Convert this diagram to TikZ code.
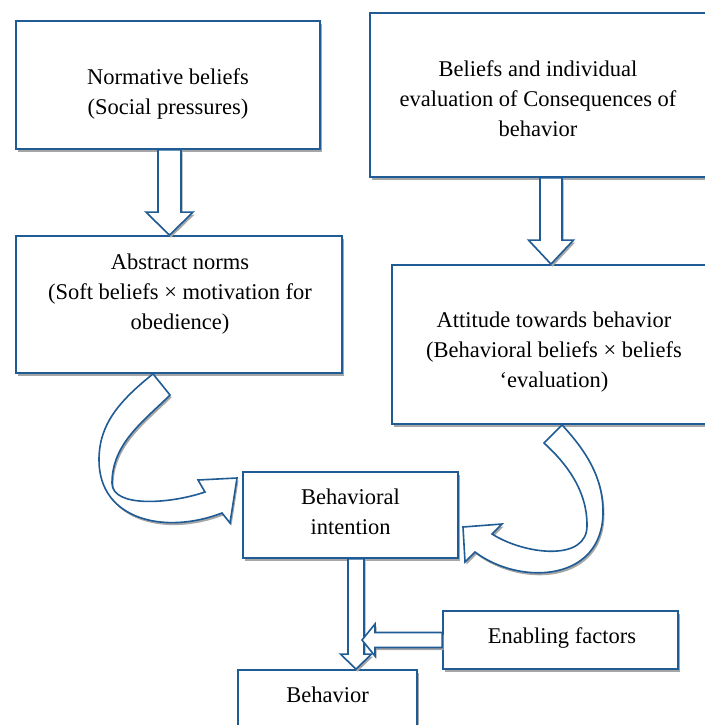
\documentclass[tikz,border=0pt]{standalone}
\usepackage{fontspec}
\setmainfont{Liberation Serif}
\usetikzlibrary{calc,shadows}

\definecolor{frameblue}{RGB}{31,91,148}

\tikzset{
  box/.style={draw=frameblue, line width=1.8pt, fill=white,
    drop shadow={shadow xshift=1.5pt, shadow yshift=-3pt, fill=black!35, opacity=1}},
  txt/.style={align=center, inner sep=0pt, font=\fontsize{22.5pt}{30pt}\selectfont},
  blockarrow/.style={draw=frameblue, line width=1.6pt, fill=white, line join=miter,
    drop shadow={shadow xshift=1.5pt, shadow yshift=-2.5pt, fill=black!35, opacity=1}}
}

\begin{document}
\begin{tikzpicture}[x=1pt, y=-1pt]
  \useasboundingbox (0,0) rectangle (704,725);

  % boxes
  \node[box, minimum width=304pt, minimum height=128pt] (norm) at (168,85) {};
  \node[box, minimum width=336pt, minimum height=164pt] (bel) at (538,95) {};
  \node[box, minimum width=326pt, minimum height=137pt] (abst) at (179,304.5) {};
  \node[box, minimum width=324pt, minimum height=159pt] (att) at (554,344.5) {};
  \node[box, minimum width=215pt, minimum height=86pt] (intent) at (350.5,515) {};
  \node[box, minimum width=235pt, minimum height=58pt] (enab) at (560.5,640) {};
  \node[box, minimum width=179pt, minimum height=58pt] (behav) at (327.5,699) {};

  % texts
  \node[txt] (normtxt) at ([yshift=-9pt]norm.center) {Normative beliefs\\(Social pressures)};
  \node[txt] (beltxt) at ([yshift=-3.5pt]bel.center) {Beliefs and individual\\evaluation of Consequences of\\behavior};
  \node[txt] (absttxt) at ([xshift=1pt, yshift=10pt]abst.center) {Abstract norms\\(Soft beliefs × motivation for\\obedience)};
  \node[txt] (atttxt) at ([yshift=-8pt]att.center) {Attitude towards behavior\\(Behavioral beliefs × beliefs\\‘evaluation)};
  \node[txt] (intenttxt) at ([yshift=3.5pt]intent.center) {Behavioral\\intention};
  \node[txt] (enabtxt) at ([xshift=1.5pt, yshift=2pt]enab.center) {Enabling factors};
  \node[txt] (behavtxt) at ([yshift=4.5pt]behav.center) {Behavior};

  % ends of the straight arrows
  \coordinate (n1) at ([xshift=1.5pt]norm.south);
  \coordinate (n2) at (abst.north -| n1);
  \coordinate (b1) at ([xshift=13pt]bel.south);
  \coordinate (b2) at (att.north -| b1);
  \coordinate (i1) at ([xshift=5.5pt]intent.south);
  \coordinate (i2) at (behav.north -| i1);
  \coordinate (e1) at (enab.west);
  \coordinate (e2) at ($(i1 |- e1)+(6,0)$);

  % straight arrows
  \foreach \st/\en/\sw/\hw/\hl in {n1/n2/11.5/23.5/23, b1/b2/11/22.5/24, i1/i2/8/15.5/15, e1/e2/7.5/16/13} {
    \coordinate (nk) at ($(\en)!\hl pt!(\st)$);
    \draw[blockarrow] ($(\st)!\sw pt!90:(\en)$) -- ($(nk)!\sw pt!-90:(\st)$) -- ($(nk)!\hw pt!-90:(\st)$)
      -- (\en) -- ($(nk)!\hw pt!90:(\st)$) -- ($(nk)!\sw pt!90:(\st)$) -- ($(\st)!\sw pt!-90:(\en)$) -- cycle;
  }

  % curved arrows
  \draw[blockarrow] ([xshift=-26pt]abst.south) .. controls (118,402) and (99,425) .. (99,460)
    .. controls (99,520) and (165,535) .. (222,513) -- (230,523) -- (237,478) -- (198,480) -- (205,492)
    .. controls (170,504) and (112,508) .. (112,483)
    .. controls (112,443) and (145,420) .. (170,395) -- cycle;
  \draw[blockarrow] ([xshift=8pt]att.south) .. controls (586,451) and (603,477) .. (603,512)
    .. controls (603,582) and (520,586) .. (475,552) -- (465,562) -- (463,527) -- (502,524) -- (492,534)
    .. controls (525,555) and (588,562) .. (587,525)
    .. controls (587,490) and (566,463) .. (544,443) -- cycle;
\end{tikzpicture}
\end{document}
